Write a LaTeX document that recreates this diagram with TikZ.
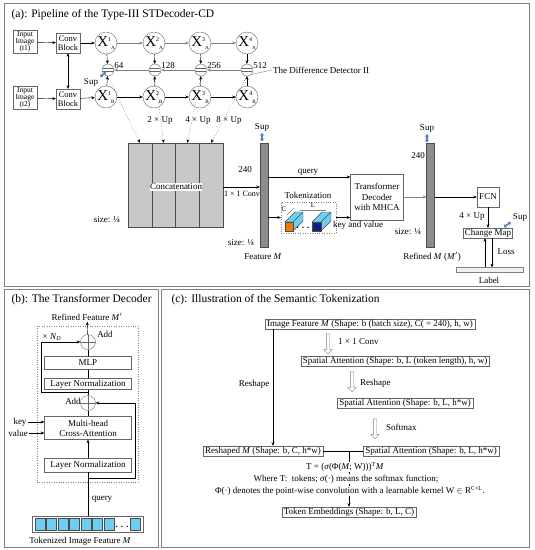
\documentclass[tikz,border=0pt]{standalone}
\usepackage{fontspec}
\setmainfont{Liberation Serif}
\usetikzlibrary{positioning,arrows.meta,shapes.arrows}
\newcommand{\fsz}[2]{\fontsize{#1}{#2}\selectfont}
\newcommand{\xn}[2]{X\raisebox{5pt}{\fsz{6}{6}#1}\raisebox{-3pt}{\fsz{5}{5}#2}}
\definecolor{concatgray}{RGB}{200,200,200}
\definecolor{bargray}{RGB}{140,140,140}
\definecolor{supblue}{RGB}{79,129,189}
\definecolor{tokcyan}{RGB}{110,205,240}
\definecolor{tokorange}{RGB}{240,120,0}
\definecolor{tokblue}{RGB}{20,30,130}

\begin{document}
\begin{tikzpicture}[x=1pt,y=-1pt,font=\fsz{9}{10},
  >={Stealth[length=3.5pt,width=3pt]},
  frame/.style={draw=gray,line width=0.7pt},
  txt/.style={inner sep=1pt},
  box/.style={draw=gray!80!black,rectangle,inner sep=1pt,align=center},
  sbox/.style={draw=gray!80!black,rectangle,inner xsep=2pt,inner ysep=1pt,font=\fsz{9}{9}},
  xc/.style={draw=gray!80!black,circle,minimum size=22pt,inner sep=0pt,font=\fsz{15}{15}},
  det/.style={draw=gray!80!black,circle,minimum size=12pt,inner sep=0pt,
    path picture={\draw[gray!80!black]
      ([yshift=1.6pt]path picture bounding box.west) -- ([yshift=1.6pt]path picture bounding box.east)
      ([yshift=-1.6pt]path picture bounding box.west) -- ([yshift=-1.6pt]path picture bounding box.east);}},
  add/.style={draw=gray!80!black,circle,minimum size=15pt,inner sep=0pt,
    path picture={\draw[gray!80!black]
      (path picture bounding box.north) -- (path picture bounding box.south)
      (path picture bounding box.west) -- (path picture bounding box.east);}},
  bar/.style={draw=gray!60!black,fill=bargray,minimum width=8pt,minimum height=104pt,inner sep=0pt},
  slot/.style={draw=gray!60!black,fill=concatgray,minimum width=23.75pt,minimum height=84pt,inner sep=0pt},
  sup/.style={draw=supblue,line width=1.6pt,{Stealth[length=2.5pt,width=4.5pt]}-{Stealth[length=2.5pt,width=4.5pt]}},
  tok/.style={draw=gray!60!black,fill=tokcyan,minimum width=10pt,minimum height=12pt,inner sep=0pt},
  hollow/.style={single arrow,draw=gray,fill=white,inner sep=1.5pt,single arrow head extend=2.5pt,
    minimum height=20pt,rotate=-90}]
\useasboundingbox (0,0) rectangle (535,550);
% panel frames
\draw[frame] (4,3) rectangle (529,286);
\draw[frame] (4,289) rectangle (158,547);
\draw[frame] (161,289) rectangle (529,547);

% (a) pipeline
\node[anchor=west,font=\fsz{11.5}{12}] (ta) at (8,15) {(a): Pipeline of the Type-III STDecoder-CD};
\node[box,minimum width=24pt,minimum height=22pt,font=\fsz{7.5}{7.2}] (in1) at (25,42) {Input\\Image\\(t1)};
\node[box,minimum width=24pt,minimum height=22pt,font=\fsz{7.5}{7.2}] (in2) at (25,98) {Input\\Image\\(t2)};
\node[box,minimum width=24pt,minimum height=20pt,font=\fsz{8.5}{9}] (cb1) at (68,43) {Conv\\Block};
\node[box,minimum width=24pt,minimum height=20pt,font=\fsz{8.5}{9}] (cb2) at (68,99) {Conv\\Block};
\node[xc] (xa1) at (106,43) {\xn{1}{A}};
\node[xc] (xa2) at (154,43) {\xn{2}{A}};
\node[xc] (xa3) at (200,43) {\xn{3}{A}};
\node[xc] (xa4) at (247,43) {\xn{4}{A}};
\node[xc] (xb1) at (106,97) {\xn{1}{B}};
\node[xc] (xb2) at (154,97) {\xn{2}{B}};
\node[xc] (xb3) at (200,97) {\xn{3}{B}};
\node[xc] (xb4) at (247,97) {\xn{4}{B}};
\node[det] (d1) at (108,70) {};
\node[det] (d2) at (155,70) {};
\node[det] (d3) at (201,70) {};
\node[det] (d4) at (247,70) {};
\node[txt,anchor=west,inner sep=0pt] (n64) at ([yshift=4pt]d1.east) {64};
\node[txt,anchor=west,inner sep=0pt] (n128) at ([yshift=4pt]d2.east) {128};
\node[txt,anchor=west,inner sep=0pt] (n256) at ([yshift=4pt]d3.east) {256};
\node[txt,anchor=west,inner sep=0pt] (n512) at ([yshift=4pt]d4.east) {512};
\draw[->] (in1) -- (cb1);
\draw[->] (in2) -- (cb2);
\draw[<->] (cb1) -- (cb2);
\draw[->] (cb1) -- (xa1);
\draw[->] (cb2) -- (xb1);
\draw[->,gray] (xa1) -- (xa2);
\draw[->,gray] (xa2) -- (xa3);
\draw[->,gray] (xa3) -- (xa4);
\draw[->] (xb1) -- (xb2);
\draw[->] (xb2) -- (xb3);
\draw[->] (xb3) -- (xb4);
\draw[->] (xa1) -- (d1);
\draw[->] (xa2) -- (d2);
\draw[->] (xa3) -- (d3);
\draw[->] (xa4) -- (d4);
\draw[->] (xb1) -- (d1);
\draw[->] (xb2) -- (d2);
\draw[->] (xb3) -- (d3);
\draw[->] (xb4) -- (d4);
\draw[->,gray,line width=0.8pt] (d4) -- (d3);
\draw[->,gray,line width=0.8pt] (d3) -- (d2);
\draw[->,gray,line width=0.8pt] (d2) -- (d1);
\node[txt] (sup1) at (91,82) {Sup};
\draw[sup] ([xshift=1pt]sup1.north east) -- ++(6,-5);
\node[txt,anchor=west] (ddl) at (272,70) {The Difference Detector II};
\draw[gray] (d4.south east) -- (ddl.west);
% concatenation
\node[slot] (s1) at (139.9,185) {};
\node[slot] (s2) at (163.6,185) {};
\node[slot] (s3) at (187.4,185) {};
\node[slot] (s4) at (211.1,185) {};
\draw[->,dotted] (d1.south) -- (s1.north);
\draw[->,dotted] (d2.south) -- (s2.north);
\draw[->,dotted] (d3.south) -- (s3.north);
\draw[->,dotted] (d4.south) -- (s4.north);
\node[txt] (up2) at (160,120) {2 × Up};
\node[txt] (up4) at (198,120) {4 × Up};
\node[txt] (up8) at (229,120) {8 × Up};
\node[txt,fill=white,inner sep=0.5pt] (cat) at (176,187) {Concatenation};
\node[txt] (sz1) at (107,220) {size: ¼};
% feature M
\node[bar] (fm) at (264,195) {};
\draw[->] ([yshift=-2pt]s4.east) -- ([yshift=-2pt]s4.east -| fm.west);
\node[txt,font=\fsz{8}{9}] (c11) at (242,194) {1 × 1 Conv};
\node[txt,anchor=east] (d240a) at (253,170) {240};
\node[txt] (sza) at (241,243) {size: ¼};
\node[txt] (fml) at (263,257) {Feature \textit{M}};
\node[txt] (supa) at (262,127) {Sup};
\draw[sup] ([yshift=-1pt]supa.south) -- ++(0,8);
% transformer decoder and tokenization
\node[box,minimum width=53pt,minimum height=46pt,font=\fsz{9}{10.5}] (td) at (377,197) {Transformer\\Decoder\\with MHCA};
\coordinate (tq) at ([yshift=20pt]td.west);
\draw[->] (fm.east |- tq) -- (tq);
\node[txt] (ql) at (308,172) {query};
\node[draw=gray,dotted,minimum width=55pt,minimum height=31pt,inner sep=0pt] (tk) at (308.5,217.5) {};
\node[txt] (tkl) at (308,195) {Tokenization};
\draw[->] (fm.east |- tk.west) -- (tk.west);
\draw[->] (tk.east) -- (tk.east -| td.west);
\node[txt] (kv) at (358,225) {key and value};
\filldraw[draw=gray!60!black,fill=tokcyan] (285,222) -- (295,212) -- (303,212) -- (303,221) -- (293,231) -- (293,222) -- cycle;
\draw[gray!60!black] (293,222) -- (303,212);
\filldraw[draw=gray!60!black,fill=tokorange] (285,222) rectangle (293,231);
\filldraw[draw=gray!60!black,fill=tokcyan] (312,222) -- (322,212) -- (331,212) -- (331,221) -- (321,231) -- (321,222) -- cycle;
\draw[gray!60!black] (321,222) -- (331,212);
\filldraw[draw=gray!60!black,fill=tokblue] (312,222) rectangle (321,231);
\node[txt,inner sep=0pt] (tdots) at (303,228) {\textbf{. . .}};
\node[txt,font=\fsz{7}{7}] (clab) at (284,209) {C};
\draw[gray] (287,215) -- (294,208);
\node[txt,font=\fsz{7}{7}] (llab) at (313,205) {L};
\draw[gray] (300,210) -- (326,210);
% refined M
\node[bar] (rm) at (430.5,195) {};
\draw[->,gray] (td.east) -- (td.east -| rm.west);
\node[txt,anchor=east] (d240b) at (426,156) {240};
\node[txt] (szb) at (408,232) {size: ¼};
\node[txt] (rml) at (432,257) {Refined \textit{M} (\textit{M}$'$)};
\node[txt] (supb) at (427,128) {Sup};
\draw[sup] ([yshift=-1pt]supb.south) -- ++(0,8);
\node[box,minimum width=22pt,minimum height=20pt] (fcn) at (488,197) {FCN};
\draw[->] (rm.east |- fcn.west) -- (fcn.west);
\node[box,minimum width=49pt,minimum height=10pt,inner sep=0.5pt] (cm) at (488,233) {Change Map};
\draw[->] (fcn.south) -- (cm.north);
\node[txt] (up4b) at (472,216) {4 × Up};
\node[txt] (supc) at (520,217) {Sup};
\draw[sup] ([xshift=-1pt]supc.south west) -- ++(-7,5);
\node[draw=gray,fill=gray!12,minimum width=67pt,minimum height=5pt,inner sep=0pt] (lb) at (489.5,270) {};
\node[txt] (lbt) at (489,280) {Label};
\draw[->] ([xshift=-3pt]cm.south |- lb.north) -- ([xshift=-3pt]cm.south);
\draw[->] ([xshift=4pt]cm.south) -- ([xshift=4pt]cm.south |- lb.north);
\node[txt] (loss) at (506,252) {Loss};

% (b) transformer decoder
\node[anchor=west,font=\fsz{11.5}{12}] (tb) at (8,300) {(b): The Transformer Decoder};
\draw[gray,dotted] (37,326) rectangle (138,482);
\node[txt] (rf) at (87,317) {Refined Feature \textit{M}$'$};
\node[add] (a1) at (88,342) {};
\node[box,minimum width=87pt,minimum height=13pt] (mlp) at (88,363) {MLP};
\node[box,minimum width=87pt,minimum height=11pt] (ln1) at (88,384) {Layer Normalization};
\node[add] (a2) at (88,403) {};
\node[box,minimum width=87pt,minimum height=23pt] (mhca) at (88,428) {Multi-head\\Cross-Attention};
\node[box,minimum width=87pt,minimum height=14pt] (ln2) at (88,465) {Layer Normalization};
\node[txt] (add1) at (105,334) {Add};
\node[txt] (add2) at (73,401) {Add};
\node[txt] (nd) at (52,337) {× \textit{N}\textsubscript{\textit{D}}};
\draw[->] (a1) -- (rf);
\draw (mlp) -- (a1);
\draw (ln1) -- (mlp);
\draw (a2) -- (ln1);
\draw (mhca) -- (a2);
\draw[->] (ln2) -- (mhca);
\coordinate (s1b) at (88,392);
\coordinate (l1b) at (41,392);
\draw[->] (s1b) -- (l1b) |- (a1.west);
\coordinate (s2b) at (88,478);
\coordinate (r2b) at (135,478);
\draw[->] (s2b) -- (r2b) |- (a2.east);
\node[txt] (key) at (20,422) {key};
\node[txt] (val) at (18,433) {value};
\draw[->] (key.east) -- (key.east -| mhca.west);
\draw[->] (val.east) -- (val.east -| mhca.west);
\node[draw=gray!80!black,minimum width=111pt,minimum height=16pt,inner sep=0pt] (tbar) at (88,524) {};
\node[tok] (t1) at (40,524) {};
\node[tok] (t2) at (51.5,524) {};
\node[tok] (t3) at (63,524) {};
\node[tok] (t4) at (74.5,524) {};
\node[tok] (t5) at (86,524) {};
\node[tok] (t6) at (97.5,524) {};
\node[tok] (t7) at (109,524) {};
\node[txt,inner sep=0pt] (tdots2) at (122,527) {\textbf{. . .}};
\node[tok] (t8) at (135,524) {};
\draw (ln2.south |- tbar.north) -- (ln2.south);
\node[txt] (qb) at (102,499) {query};
\node[txt] (tif) at (80,541) {Tokenized Image Feature \textit{M}};

% (c) semantic tokenization
\node[anchor=west,font=\fsz{11.5}{12}] (tc) at (168,300) {(c): Illustration of the Semantic Tokenization};
\node[sbox] (b1) at (370,324) {Image Feature \textit{M} (Shape: b (batch size), C( = 240), h, w)};
\node[sbox] (b2) at (395,361) {Spatial Attention (Shape: b, L (token length), h, w)};
\node[sbox] (b3) at (405,403) {Spatial Attention (Shape: b, L, h*w)};
\node[sbox] (b4) at (431,451) {Spatial Attention (Shape: b, L, h*w)};
\node[sbox] (b5) at (263,451) {Reshaped \textit{M} (Shape: b, C, h*w)};
\node[sbox] (b6) at (349,512) {Token Embeddings (Shape: b, L, C)};
\node[hollow] (h1) at (328,343) {};
\node[hollow] (h2) at (352,381) {};
\node[hollow] (h3) at (375,428) {};
\node[txt,anchor=west] (conv) at (337,342) {1 × 1 Conv};
\node[txt,anchor=west] (resh) at (359,383) {Reshape};
\node[txt,anchor=west] (soft) at (385,427) {Softmax};
\draw[->] ([xshift=-97pt]b1.south) -- ([xshift=-97pt]b1.south |- b5.north);
\node[txt] (resh2) at (254,384) {Reshape};
\draw (b5.east) -- (b4.west);
\draw[->] (b6.north |- b5.east) -- (b6.north);
\node[txt,fill=white,inner sep=0.5pt] (eq1) at (345,467) {T = (\textit{σ}(Φ(\textit{M}; W)))\textsuperscript{T}\textit{M}};
\node[txt,fill=white,inner sep=0.5pt] (eq2) at (346,479) {Where T:\enspace tokens; \textit{σ}(·) means the softmax function;};
\node[txt,fill=white,inner sep=0.5pt] (eq3) at (350,491) {Φ(·) denotes the point-wise convolution with a learnable kernel W $\in$ R\textsuperscript{C×L}.};
\end{tikzpicture}
\end{document}
